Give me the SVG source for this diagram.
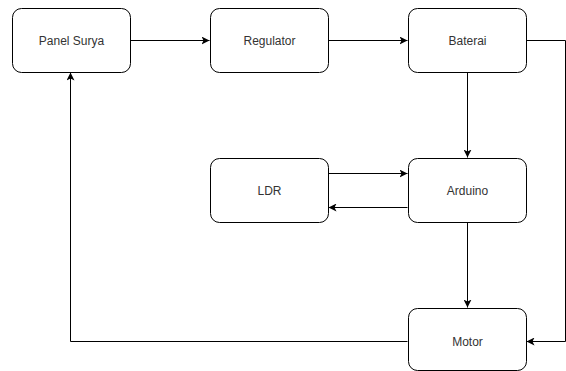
<svg xmlns="http://www.w3.org/2000/svg" width="566" height="371" viewBox="0 0 566 371">
<style>
.box{fill:#fff;stroke:#000;stroke-width:1}
.lbl{font-family:"Liberation Sans",Arial,sans-serif;font-size:12px;fill:#333;text-anchor:middle;dominant-baseline:central}
.ln{fill:none;stroke:#000;stroke-width:1}
</style>
<defs>
<marker id="ar" viewBox="0 0 10 10" refX="10" refY="5" markerWidth="8" markerHeight="8" markerUnits="userSpaceOnUse" orient="auto">
<path d="M0,0 L10,5 L0,10 L2.5,5 Z" fill="#000"/>
</marker>
</defs>
<rect width="566" height="371" fill="#fff"/>
<g id="connectors">
<path class="ln" d="M130.5,40.5 H209.5" marker-end="url(#ar)"/>
<path class="ln" d="M328.5,40.5 H407.5" marker-end="url(#ar)"/>
<path class="ln" d="M526.5,40.5 H565.5 V341.5 H526.5" marker-end="url(#ar)"/>
<path class="ln" d="M467.5,72.5 V157.5" marker-end="url(#ar)"/>
<path class="ln" d="M467.5,222.5 V307.5" marker-end="url(#ar)"/>
<path class="ln" d="M328.5,173.5 H407.5" marker-end="url(#ar)"/>
<path class="ln" d="M407.5,207.5 H328.5" marker-end="url(#ar)"/>
<path class="ln" d="M407.5,341.5 H70.5 V72.5" marker-end="url(#ar)"/>
</g>
<g id="panel-surya"><rect class="box" x="12.5" y="8.5" width="118" height="64" rx="9"/><text class="lbl" x="71.5" y="40.5">Panel Surya</text></g>
<g id="regulator"><rect class="box" x="210.5" y="8.5" width="118" height="64" rx="9"/><text class="lbl" x="269.5" y="40.5">Regulator</text></g>
<g id="baterai"><rect class="box" x="408.5" y="8.5" width="118" height="64" rx="9"/><text class="lbl" x="467.5" y="40.5">Baterai</text></g>
<g id="ldr"><rect class="box" x="210.5" y="158.5" width="118" height="64" rx="9"/><text class="lbl" x="269.5" y="190.5">LDR</text></g>
<g id="arduino"><rect class="box" x="408.5" y="158.5" width="118" height="64" rx="9"/><text class="lbl" x="467.5" y="190.5">Arduino</text></g>
<g id="motor"><rect class="box" x="408.5" y="308.5" width="118" height="62" rx="9"/><text class="lbl" x="467.5" y="341.5">Motor</text></g>
</svg>
